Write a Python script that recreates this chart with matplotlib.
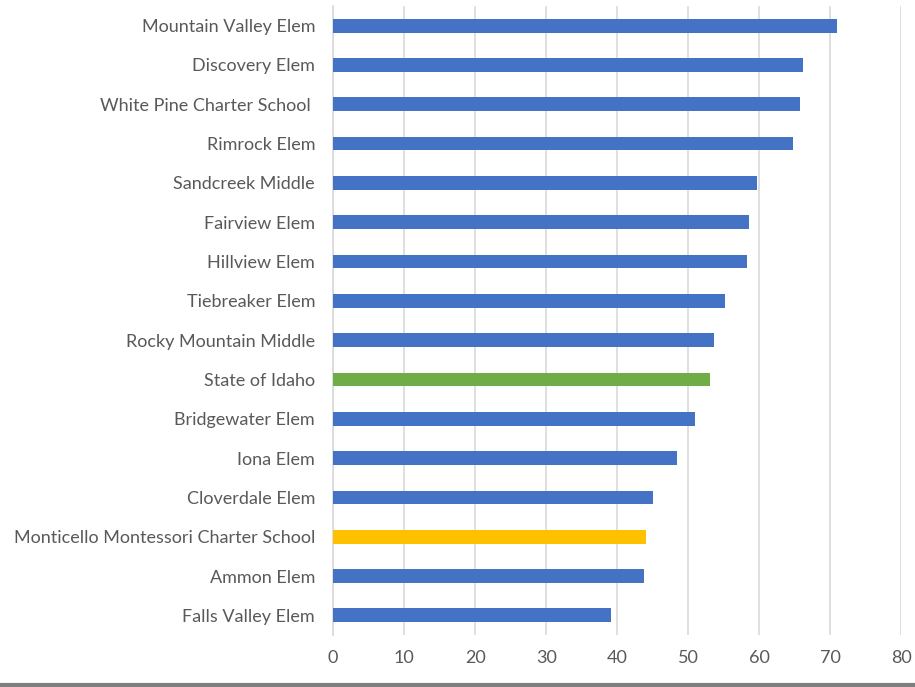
import numpy as np
import matplotlib.pyplot as plt
from matplotlib.lines import Line2D

# schools, top to bottom as shown in the chart
schools = ['Mountain Valley Elem', 'Discovery Elem', 'White Pine Charter School ',
           'Rimrock Elem', 'Sandcreek Middle', 'Fairview Elem', 'Hillview Elem',
           'Tiebreaker Elem', 'Rocky Mountain Middle', 'State of Idaho',
           'Bridgewater Elem', 'Iona Elem', 'Cloverdale Elem',
           'Monticello Montessori Charter School', 'Ammon Elem', 'Falls Valley Elem']
scores = [70.9, 66.1, 65.7, 64.7, 59.7, 58.6, 58.3, 55.2, 53.7, 53.0,
          50.9, 48.4, 45.0, 44.1, 43.8, 39.2]
highlight = {'State of Idaho': '#70AD47',
             'Monticello Montessori Charter School': '#FFC000'}
xticks = [0, 10, 20, 30, 40, 50, 60, 70, 80]

plt.rcParams['font.family'] = ['Lato', 'DejaVu Sans']

fig = plt.figure(figsize=(9.15, 6.87), dpi=100)
ax = fig.add_axes([0.364, 0.0757, 0.621, 0.9156])

colors = [highlight.get(s, '#4472C4') for s in schools]
ypos = np.arange(len(schools))
ax.barh(ypos, scores, height=0.35, color=colors, zorder=3)

ax.set_ylim(len(schools) - 0.5, -0.5)
ax.set_xlim(0, 80)
ax.set_yticks(ypos)
ax.set_yticklabels(schools)
ax.set_xticks(xticks)

ax.tick_params(axis='both', length=0, labelsize=13, colors='#595959')
ax.tick_params(axis='y', pad=13)
ax.tick_params(axis='x', pad=11)
ax.xaxis.grid(True, color='#d9d9d9', linewidth=1.2, zorder=0)
for side in ['top', 'right', 'bottom']:
    ax.spines[side].set_visible(False)
ax.spines['left'].set_color('#d9d9d9')
ax.spines['left'].set_linewidth(1.2)

# dark border along the bottom edge of the image
fig.add_artist(Line2D([0, 1], [0.003, 0.003], transform=fig.transFigure,
                      color='#7f7f7f', linewidth=3))

plt.savefig('out.png', dpi=100)
